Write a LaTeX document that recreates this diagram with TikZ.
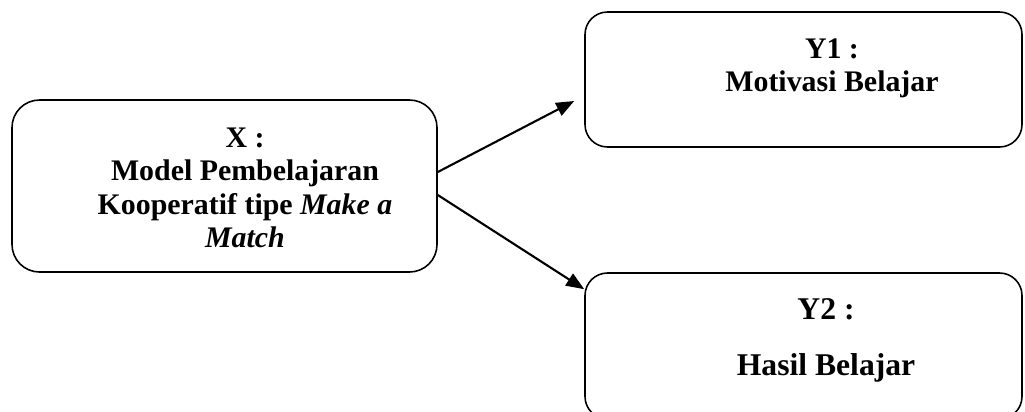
\documentclass[tikz,border=0pt]{standalone}
\usepackage{fontspec}
\setmainfont{Liberation Serif}
\usetikzlibrary{arrows.meta}
\begin{document}
\begin{tikzpicture}[
    kotak/.style={draw, line width=0.9pt, rounded corners=#1, inner sep=0pt},
    teks/.style={align=center, inner sep=0pt, anchor=north, font=\bfseries\fontsize{17}{18.9}\selectfont},
    panah/.style={line width=1.2pt, -{Triangle[length=0.36cm,width=0.28cm]}}
]
    % Batas gambar
    \useasboundingbox (0,0) rectangle (20.5,-8.22);
    \clip (0,0) rectangle (20.5,-8.22);

    % Variabel bebas X
    \node[kotak=0.55cm, minimum width=8.5cm, minimum height=3.44cm] (xbox) at (4.49,-3.72) {};
    \node[teks] (xtext) at (4.9,-2.556) {X :\\ Model Pembelajaran\\ Kooperatif tipe \textit{Make a}\\ \textit{Match}};

    % Variabel terikat Y1
    \node[kotak=0.45cm, minimum width=8.74cm, minimum height=2.7cm] (yone) at (16.07,-1.59) {};
    \node[teks] (yonetext) at (16.64,-0.767) {Y1 :\\ Motivasi Belajar};

    % Variabel terikat Y2
    \node[kotak=0.45cm, minimum width=8.74cm, minimum height=2.92cm] (ytwo) at (16.07,-6.92) {};
    \node[teks, font=\bfseries\fontsize{18}{32}\selectfont] (ytwotext) at (16.52,-5.96) {Y2 :\\ Hasil Belajar};

    % Panah pengaruh
    \draw[panah] ([yshift=0.28cm]xbox.east) -- ([xshift=-0.2cm,yshift=-0.43cm]yone.west);
    \draw[panah] ([yshift=-0.18cm]xbox.east) -- ([yshift=-0.34cm]ytwo.north west);
\end{tikzpicture}
\end{document}
